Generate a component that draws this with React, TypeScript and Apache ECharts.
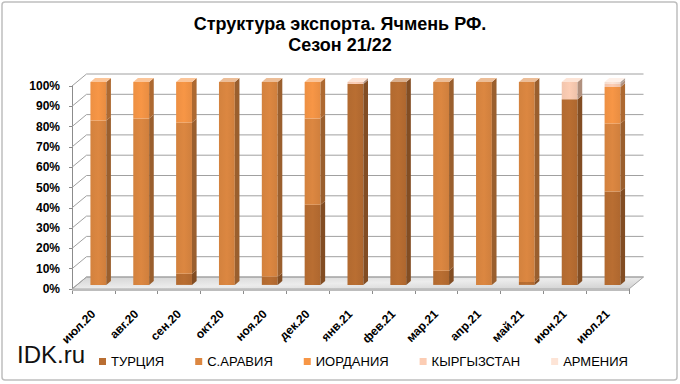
import React, { useEffect, useRef } from 'react';
import * as echarts from 'echarts';

const categories = ['июл.20', 'авг.20', 'сен.20', 'окт.20', 'ноя.20', 'дек.20', 'янв.21', 'фев.21', 'мар.21', 'апр.21', 'май.21', 'июн.21', 'июл.21'];
const seriesNames = ['ТУРЦИЯ', 'С.АРАВИЯ', 'ИОРДАНИЯ', 'КЫРГЫЗСТАН', 'АРМЕНИЯ'];
const turkey = [0, 0, 5.5, 0, 4, 39.5, 99, 100, 7, 0, 1.5, 91.5, 46];
const saudi = [81, 82, 74.5, 100, 96, 42.5, 0, 0, 93, 100, 98.5, 0, 33.5];
const jordan = [19, 18, 20, 0, 0, 18, 0, 0, 0, 0, 0, 0, 18];
const kyrgyz = [0, 0, 0, 0, 0, 0, 1, 0, 0, 0, 0, 8.5, 1.5];
const armenia = [0, 0, 0, 0, 0, 0, 0, 0, 0, 0, 0, 0, 1];
const yTicks = [0, 10, 20, 30, 40, 50, 60, 70, 80, 90, 100];
const colors = ['#B96E32', '#DC8741', '#F79646', '#FCCDB4', '#FDE4D6'];

function mix(hex: string, target: number, t: number) {
  const n = parseInt(hex.slice(1), 16);
  const r = (n >> 16) & 255, g = (n >> 8) & 255, b = n & 255;
  const f = (c: number) => Math.round(c + (target - c) * t);
  return `rgb(${f(r)},${f(g)},${f(b)})`;
}

export default function App() {
  const ref = useRef<HTMLDivElement>(null);
  useEffect(() => {
    const chart = echarts.init(ref.current!, null, { renderer: 'svg' });
    const values = [turkey, saudi, jordan, kyrgyz, armenia];
    const D = [14.5, -12];
    const FRONT = 0.34, BACK = 0.66;
    const barData = categories.map((c, i) => [i, ...values.map((v) => v[i])]);
    const axisGray = '#8c8c8c';
    const font = 'Liberation Sans, Arial, sans-serif';

    const option: any = {
      animation: false,
      title: {
        text: 'Структура экспорта. Ячмень РФ.\nСезон 21/22',
        left: 'center',
        top: 8,
        textStyle: { fontSize: 18, fontWeight: 'bold', fontFamily: font, color: '#000', lineHeight: 21 },
      },
      graphic: [
        { type: 'rect', shape: { x: 2, y: 2, width: 675, height: 378, r: 3 }, style: { fill: 'none', stroke: '#bfbfbf', lineWidth: 1.5 }, silent: true },
        { type: 'text', left: 17, top: 342, style: { text: 'IDK.ru', fontSize: 24, fontFamily: font, fill: '#111' } },
      ],
      legend: {
        data: seriesNames,
        left: 94,
        top: 350,
        itemWidth: 7,
        itemHeight: 7,
        itemGap: 31,
        icon: 'rect',
        textStyle: { fontSize: 13, fontFamily: font, color: '#000' },
      },
      grid: [{ left: 72, right: 51, top: 86, bottom: 95 }],
      xAxis: [
        {
          type: 'category', data: categories, gridIndex: 0,
          axisLine: { show: true, lineStyle: { color: axisGray } },
          axisTick: { show: true, length: 5, lineStyle: { color: axisGray } },
          axisLabel: { rotate: 45, margin: 23, fontWeight: 'bold', fontSize: 12, fontFamily: font, color: '#000', interval: 0 },
        },
      ],
      yAxis: [
        {
          type: 'value', gridIndex: 0, min: 0, max: 100, interval: 10,
          axisLabel: { formatter: '{value}%', fontWeight: 'bold', fontSize: 12, fontFamily: font, color: '#000', margin: 12 },
          axisLine: { show: true, lineStyle: { color: axisGray } },
          axisTick: { show: true, length: 3, lineStyle: { color: axisGray } },
          splitLine: { show: false },
        },
      ],
      series: [
        {
          type: 'custom', name: 'walls', xAxisIndex: 0, yAxisIndex: 0, silent: true, z: 1,
          data: yTicks.map((t) => [0, t]),
          renderItem: (params: any, api: any) => {
            const t = api.value(1);
            const band = api.size([1, 0])[0];
            const pl = api.coord([0, t]);
            const pr = api.coord([categories.length - 1, t]);
            const xl = pl[0] - band / 2;
            const xr = pr[0] + band / 2;
            const y = pl[1];
            const children: any[] = [];
            if (t === 0) {
              children.push({
                type: 'polygon',
                shape: { points: [[xl, y], [xr, y], [xr + D[0], y + D[1]], [xl + D[0], y + D[1]]] },
                style: {
                  fill: new echarts.graphic.LinearGradient(0, 0, 1, 1, [
                    { offset: 0, color: '#d4d4d4' },
                    { offset: 0.5, color: '#ececec' },
                    { offset: 1, color: '#d0d0d0' },
                  ]),
                  stroke: '#a6a6a6', lineWidth: 1,
                },
              });
              children.push({
                type: 'rect',
                shape: { x: xl, y: y, width: xr - xl, height: 2 },
                style: { fill: '#bdbdbd' },
              });
            }
            children.push({
              type: 'line',
              shape: { x1: xl + D[0], y1: y + D[1], x2: xr + D[0], y2: y + D[1] },
              style: { stroke: '#a0a0a0', lineWidth: 1 },
            });
            children.push({
              type: 'line',
              shape: { x1: xl, y1: y, x2: xl + D[0], y2: y + D[1] },
              style: { stroke: '#a0a0a0', lineWidth: 1 },
            });
            return { type: 'group', children };
          },
        },
        {
          type: 'custom', name: 'bars', xAxisIndex: 0, yAxisIndex: 0, z: 2,
          data: barData,
          renderItem: (params: any, api: any) => {
            const i = api.value(0);
            const band = api.size([1, 0])[0];
            const w = band * 0.37;
            const ox = D[0] * FRONT, oy = D[1] * FRONT;
            const sdx = D[0] * (BACK - FRONT), sdy = D[1] * (BACK - FRONT);
            const children: any[] = [];
            let cum = 0;
            let last = -1;
            let topY = 0, xlS = 0, xrS = 0;
            for (let k = 0; k < seriesNames.length; k++) {
              const v = api.value(k + 1);
              if (!(v > 0)) continue;
              const pb = api.coord([i, cum]);
              const pt = api.coord([i, cum + v]);
              const xl = pb[0] - w / 2 + ox;
              const xr = xl + w;
              const yb = pb[1] + oy;
              const yt = pt[1] + oy;
              const c = colors[k];
              children.push({
                type: 'rect',
                shape: { x: xl, y: yt, width: w, height: yb - yt },
                style: {
                  fill: new echarts.graphic.LinearGradient(0, 0, 1, 0, [
                    { offset: 0, color: mix(c, 0, 0.04) },
                    { offset: 0.5, color: c },
                    { offset: 1, color: mix(c, 0, 0.06) },
                  ]),
                },
              });
              children.push({
                type: 'polygon',
                shape: { points: [[xr, yt], [xr + sdx, yt + sdy], [xr + sdx, yb + sdy], [xr, yb]] },
                style: { fill: mix(c, 0, 0.3) },
              });
              cum += v;
              last = k;
              topY = yt; xlS = xl; xrS = xr;
            }
            if (last >= 0) {
              children.push({
                type: 'polygon',
                shape: { points: [[xlS, topY], [xlS + sdx, topY + sdy], [xrS + sdx, topY + sdy], [xrS, topY]] },
                style: { fill: mix(colors[last], 255, 0.45) },
              });
            }
            return { type: 'group', children };
          },
        },
        ...seriesNames.map((n, k) => ({
          type: 'bar', name: n, data: [], xAxisIndex: 0, yAxisIndex: 0,
          itemStyle: { color: colors[k] },
        })),
      ],
    };
    chart.setOption(option);
    return () => chart.dispose();
  }, []);
  return <div ref={ref} style={{ position: 'absolute', left: 0, top: 0, width: 680, height: 384, background: '#fff' }} />;
}
